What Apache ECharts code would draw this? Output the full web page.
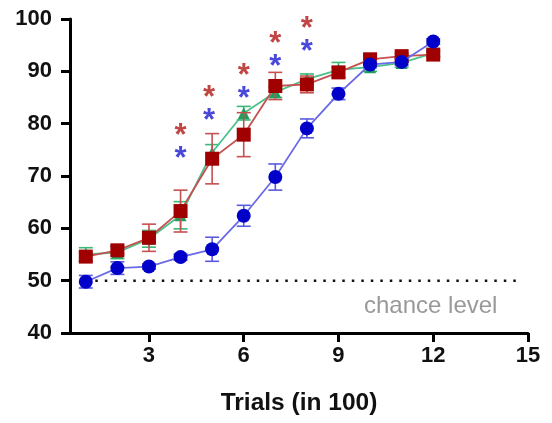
<!DOCTYPE html>
<html><head><meta charset="utf-8">
<script src="https://cdn.jsdelivr.net/npm/echarts@6/dist/echarts.min.js"></script>
<style>html,body{margin:0;padding:0;background:#fff}#c{width:552px;height:423px}</style>
</head><body><div id="c"></div>
<script>
var trials = [1,2,3,4,5,6,7,8,9,10,11,12];
var blueMean = [49.8,52.4,52.7,54.5,56.0,62.4,69.8,79.1,85.7,91.3,91.8,95.7];
var blueErr  = [1.2,1.2,0.5,0.6,2.3,2.0,2.5,1.8,1.1,0.6,0.6,0.5];
var redMean  = [54.6,55.8,58.2,63.3,73.3,77.9,87.2,87.5,89.8,92.3,92.9,93.2];
var redErr   = [0.8,0.8,2.6,4.0,4.8,4.2,2.6,1.6,1.0,0.6,0.5,0.5];
var greenMean= [55.0,55.4,58.0,62.5,74.5,82.0,86.0,88.5,90.3,90.8,91.6,93.5];
var greenErr = [1.3,1.2,1.6,2.6,1.5,1.3,1.0,1.0,1.4,0.8,0.8,0.6];
var starX     = [4,4.9,6,7,8];
var redStarY  = [79.0,86.3,90.5,96.6,99.5];
var blueStarY = [74.6,81.9,86.1,92.2,95.2];
var chanceLevel = 50;
var xTicks = [3,6,9,12,15];

function pairs(xs, ys){ return xs.map(function(x,i){return [x, ys[i]];}); }
function errData(xs, m, e){ return xs.map(function(x,i){return [x, m[i]-e[i], m[i]+e[i]];}); }
function errSeries(data, color, z){
  return {
    type:'custom', data:data, z:z, silent:true,
    encode:{x:0,y:[1,2]},
    renderItem:function(params, api){
      var lo = api.coord([api.value(0), api.value(1)]);
      var hi = api.coord([api.value(0), api.value(2)]);
      var w = 7;
      var st = {stroke:color, lineWidth:1.6};
      return {type:'group', children:[
        {type:'line', shape:{x1:lo[0],y1:lo[1],x2:hi[0],y2:hi[1]}, style:st},
        {type:'line', shape:{x1:lo[0]-w,y1:lo[1],x2:lo[0]+w,y2:lo[1]}, style:st},
        {type:'line', shape:{x1:hi[0]-w,y1:hi[1],x2:hi[0]+w,y2:hi[1]}, style:st}
      ]};
    }
  };
}
function starSeries(xs, ys, color){
  return {
    type:'scatter', data:pairs(xs, ys), symbolSize:1, itemStyle:{color:'rgba(0,0,0,0)'},
    silent:true, z:10,
    label:{show:true, position:'inside', formatter:'*', color:color,
      fontFamily:'Liberation Sans', fontWeight:'bold', fontSize:31, offset:[0,8]}
  };
}
var font = 'Liberation Sans';
var chart = echarts.init(document.getElementById('c'));
chart.setOption({
  animation:false,
  grid:{left:70, right:24, top:19, bottom:90},
  xAxis:{
    type:'value', min:0.5, max:15,
    name:'Trials (in 100)', nameLocation:'middle', nameGap:58,
    nameTextStyle:{fontFamily:font, fontWeight:'bold', fontSize:24.5, color:'#111'},
    axisLine:{lineStyle:{color:'#000', width:3}},
    axisTick:{show:true, length:9, lineStyle:{color:'#000', width:3}, customValues:xTicks},
    axisLabel:{fontFamily:font, fontWeight:'bold', fontSize:22, color:'#111', margin:12, customValues:xTicks},
    splitLine:{show:false}
  },
  yAxis:{
    type:'value', min:40, max:100, interval:10,
    axisLine:{show:true, lineStyle:{color:'#000', width:3}},
    axisTick:{show:true, length:9, lineStyle:{color:'#000', width:3}},
    axisLabel:{fontFamily:font, fontWeight:'bold', fontSize:22, color:'#111', margin:18},
    splitLine:{show:false}
  },
  series:[
    {type:'line', data:[[1,chanceLevel],[14.7,chanceLevel]], symbol:'none', silent:true, z:1,
     lineStyle:{color:'#111', width:2.5, type:[2.5,7]}},
    errSeries(errData(trials, greenMean, greenErr), '#3cb878', 2),
    {type:'line', data:pairs(trials, greenMean), symbol:'triangle', symbolSize:12, z:3,
     lineStyle:{color:'#4cc08a', width:1.8}, itemStyle:{color:'#1f9e5e'}},
    errSeries(errData(trials, redMean, redErr), '#c65050', 4),
    {type:'line', data:pairs(trials, redMean), symbol:'rect', symbolSize:14, z:5,
     lineStyle:{color:'#c45050', width:1.8}, itemStyle:{color:'#a00000'}},
    errSeries(errData(trials, blueMean, blueErr), '#5a5ae0', 6),
    {type:'line', data:pairs(trials, blueMean), symbol:'circle', symbolSize:14, z:7,
     lineStyle:{color:'#6a6ae6', width:1.8}, itemStyle:{color:'#0000c8'}},
    starSeries(starX, redStarY, '#b01818'),
    starSeries(starX, blueStarY, '#1a1ad0')
  ],
  graphic:[{type:'text', left:364, top:294,
    style:{text:'chance level', fontFamily:font, fontSize:24, fill:'#999'}}]
});
</script></body></html>
